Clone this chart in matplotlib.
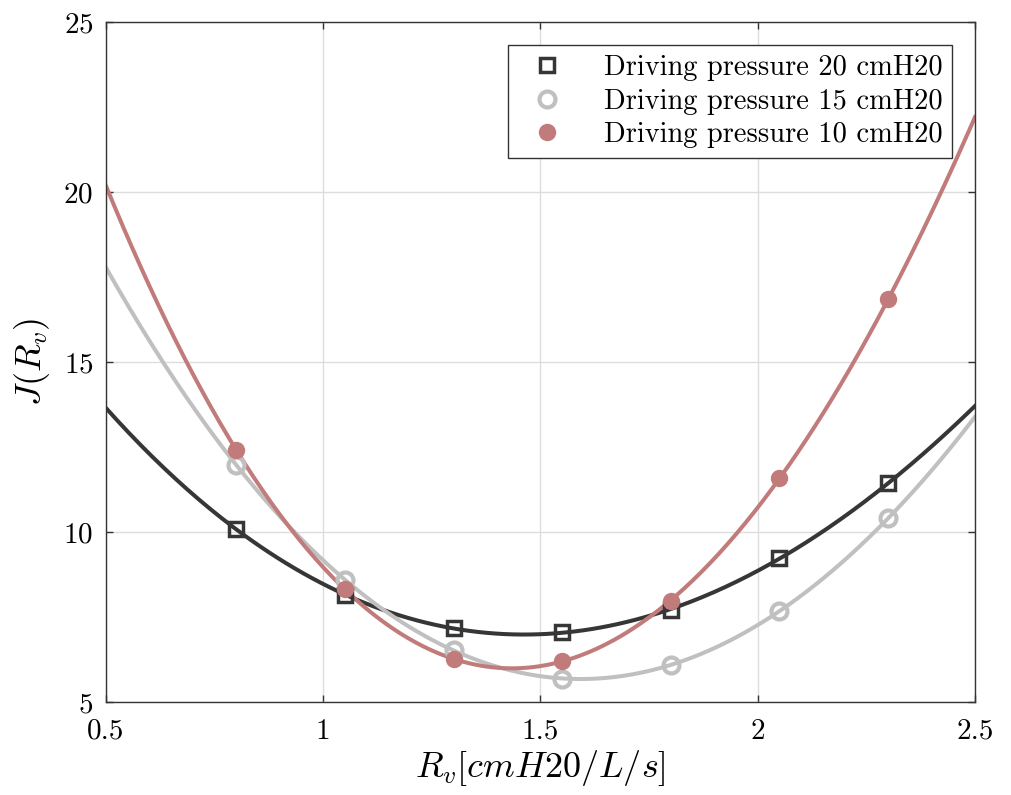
import matplotlib
matplotlib.use("Agg")
import matplotlib.pyplot as plt
import numpy as np

plt.rcParams['font.family'] = 'serif'
plt.rcParams['font.serif'] = ['cmr10']
plt.rcParams['mathtext.fontset'] = 'cm'
plt.rcParams['axes.formatter.use_mathtext'] = True

# measured points
rv = [0.8, 1.05, 1.3, 1.55, 1.8, 2.05, 2.3]
j20 = [10.08, 8.15, 7.17, 7.05, 7.71, 9.23, 11.43]
j15 = [11.97, 8.59, 6.53, 5.68, 6.09, 7.68, 10.40]
j10 = [12.41, 8.31, 6.26, 6.21, 7.98, 11.58, 16.84]
labels = ['Driving pressure 20 cmH20', 'Driving pressure 15 cmH20', 'Driving pressure 10 cmH20']

c20 = '#363636'
c15 = '#c0c0c0'
c10 = '#c27b7b'

fig = plt.figure(figsize=(10.11, 7.95), dpi=100)
ax = fig.add_axes([0.1048, 0.117, 0.8596, 0.8553])

xf = np.linspace(0.5, 2.5, 300)
for y, c in [(j20, c20), (j15, c15), (j10, c10)]:
    p = np.polyfit(rv, y, 3)
    ax.plot(xf, np.polyval(p, xf), color=c, lw=2.9, zorder=2)

ax.plot(rv, j20, 's', ms=9.5, mfc='none', mec=c20, mew=2.5, color=c20, label=labels[0], zorder=3)
ax.plot(rv, j15, 'o', ms=11.5, mfc='none', mec=c15, mew=3, color=c15, label=labels[1], zorder=3)
ax.plot(rv, j10, 'o', ms=11.5, mfc=c10, mec=c10, color=c10, label=labels[2], zorder=3)

ax.set_xlim(0.5, 2.5)
ax.set_ylim(5, 25)
ax.set_xticks([0.5, 1, 1.5, 2, 2.5])
ax.set_xticklabels(['0.5', '1', '1.5', '2', '2.5'])
ax.set_yticks([5, 10, 15, 20, 25])
ax.grid(True, color='#dddddd', lw=1)
ax.set_axisbelow(True)
ax.tick_params(direction='in', top=True, right=True, labelsize=21, length=5, width=1, color='#333333')
ax.tick_params(axis='x', pad=12)
ax.tick_params(axis='y', pad=9)
for s in ax.spines.values():
    s.set_color('#333333')
    s.set_linewidth(1)

ax.set_xlabel(r'$R_v[cmH20/L/s]$', fontsize=26, labelpad=2)
ax.set_ylabel(r'$J(R_v)$', fontsize=26, labelpad=8)

leg = ax.legend(loc='upper right', fontsize=20.5, fancybox=False, framealpha=1,
                edgecolor='#333333', handletextpad=1.0, borderaxespad=0.8,
                labelspacing=0.25, borderpad=0.35, handlelength=2.0)
leg.get_frame().set_linewidth(1)

fig.savefig('out.png', dpi=100)
